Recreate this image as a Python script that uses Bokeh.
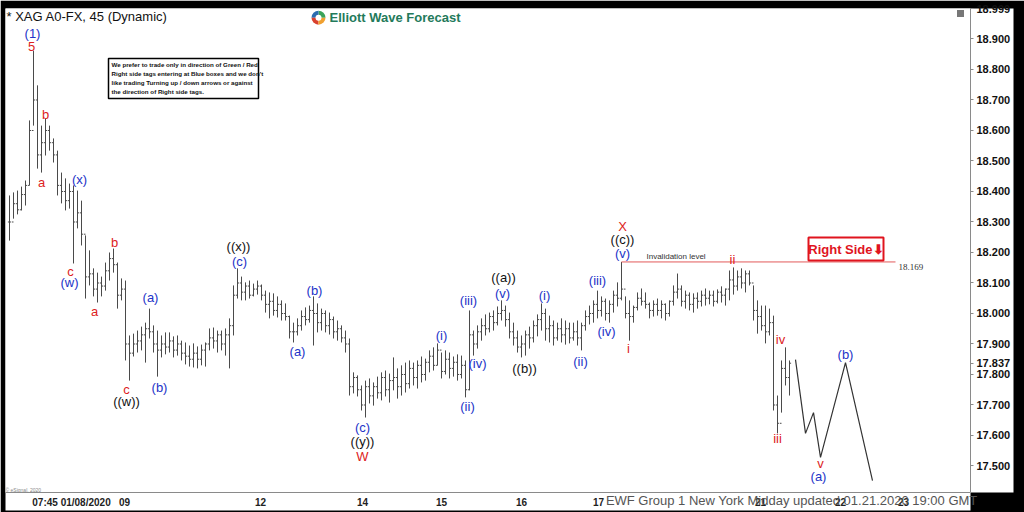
from bokeh.plotting import figure
from bokeh.models import Range1d, FixedTicker, PrintfTickFormatter, Label
from bokeh.core.properties import value
from bokeh.embed import file_html
from bokeh.resources import INLINE

# ---- 45-minute OHLC bars of XAG (high / low / close) ----
bar_high = [
    18.387, 18.397, 18.403, 18.416, 18.436, 18.633, 18.862, 18.748, 18.616, 18.639,
    18.616, 18.574, 18.534, 18.462, 18.443, 18.426, 18.420, 18.403, 18.370, 18.256,
    18.207, 18.148, 18.134, 18.121, 18.167, 18.200, 18.213, 18.167, 18.115, 18.108,
    17.928, 17.934, 17.944, 17.957, 17.970, 18.016, 17.961, 17.944, 17.928, 17.938,
    17.938, 17.925, 17.928, 17.911, 17.905, 17.895, 17.902, 17.892, 17.898, 17.905,
    17.951, 17.954, 17.944, 17.944, 17.951, 17.984, 18.092, 18.148, 18.121, 18.102,
    18.108, 18.098, 18.108, 18.095, 18.075, 18.069, 18.066, 18.056, 18.043, 18.033,
    17.993, 17.970, 17.984, 18.010, 18.020, 18.026, 18.056, 18.033, 18.016, 18.010,
    18.003, 17.990, 17.977, 17.961, 17.944, 17.918, 17.807, 17.797, 17.764, 17.780,
    17.787, 17.774, 17.793, 17.807, 17.813, 17.803, 17.856, 17.820, 17.830, 17.839,
    17.846, 17.839, 17.846, 17.859, 17.852, 17.879, 17.889, 17.902, 17.872, 17.879,
    17.872, 17.859, 17.866, 17.862, 17.846, 18.010, 17.944, 17.961, 17.984, 17.997,
    18.003, 18.010, 18.023, 18.043, 18.026, 18.003, 17.970, 17.944, 17.928, 17.944,
    17.957, 17.977, 17.997, 18.033, 18.016, 17.993, 17.977, 17.970, 17.984, 17.977,
    17.970, 17.970, 17.977, 17.970, 18.010, 18.026, 18.043, 18.075, 18.056, 18.049,
    18.043, 18.075, 18.102, 18.169, 18.056, 18.043, 18.026, 18.069, 18.082, 18.069,
    18.036, 18.043, 18.049, 18.043, 18.033, 18.043, 18.092, 18.131, 18.092, 18.075,
    18.069, 18.066, 18.069, 18.075, 18.082, 18.075, 18.075, 18.079, 18.089, 18.082,
    18.141, 18.151, 18.141, 18.148, 18.141, 18.141, 18.092, 18.043, 18.026, 18.026,
    18.016, 17.993, 17.731, 17.846, 17.889, 17.846,
]
bar_low = [
    18.239, 18.311, 18.325, 18.338, 18.354, 18.420, 18.616, 18.475, 18.462, 18.518,
    18.534, 18.495, 18.387, 18.361, 18.338, 18.344, 18.164, 18.279, 18.223, 18.049,
    18.092, 18.056, 18.036, 18.056, 18.075, 18.108, 18.134, 18.016, 18.043, 17.846,
    17.780, 17.859, 17.872, 17.879, 17.839, 17.918, 17.872, 17.793, 17.856, 17.866,
    17.872, 17.856, 17.862, 17.846, 17.833, 17.826, 17.823, 17.820, 17.830, 17.826,
    17.879, 17.885, 17.872, 17.879, 17.862, 17.820, 17.928, 18.049, 18.043, 18.043,
    18.049, 18.056, 18.062, 18.043, 18.003, 17.984, 17.993, 17.987, 17.977, 17.977,
    17.918, 17.905, 17.928, 17.944, 17.961, 17.970, 17.895, 17.938, 17.944, 17.938,
    17.931, 17.918, 17.911, 17.905, 17.872, 17.731, 17.738, 17.728, 17.682, 17.659,
    17.705, 17.698, 17.721, 17.715, 17.728, 17.708, 17.748, 17.721, 17.731, 17.741,
    17.754, 17.764, 17.754, 17.774, 17.780, 17.807, 17.813, 17.830, 17.787, 17.800,
    17.787, 17.793, 17.780, 17.787, 17.725, 17.748, 17.862, 17.885, 17.911, 17.928,
    17.938, 17.944, 17.961, 17.977, 17.957, 17.918, 17.895, 17.872, 17.856, 17.862,
    17.885, 17.905, 17.925, 17.944, 17.911, 17.905, 17.895, 17.911, 17.905, 17.898,
    17.902, 17.911, 17.895, 17.879, 17.944, 17.964, 17.970, 17.984, 17.990, 17.977,
    17.970, 18.003, 18.023, 18.043, 17.984, 17.911, 17.970, 18.010, 18.026, 18.016,
    17.984, 17.990, 17.993, 17.984, 17.977, 17.990, 18.026, 18.049, 18.023, 18.016,
    18.010, 18.003, 18.016, 18.023, 18.026, 18.030, 18.023, 18.033, 18.036, 18.026,
    18.043, 18.062, 18.075, 18.082, 18.069, 18.092, 17.977, 17.934, 17.944, 17.902,
    17.928, 17.682, 17.607, 17.675, 17.764, 17.731,
]
bar_close = [
    18.300, 18.360, 18.340, 18.390, 18.420, 18.600, 18.700, 18.520, 18.560, 18.600,
    18.560, 18.520, 18.420, 18.400, 18.370, 18.400, 18.300, 18.330, 18.260, 18.120,
    18.130, 18.080, 18.100, 18.090, 18.140, 18.180, 18.160, 18.060, 18.080, 17.900,
    17.870, 17.900, 17.910, 17.930, 17.950, 17.940, 17.900, 17.880, 17.900, 17.890,
    17.910, 17.880, 17.900, 17.870, 17.860, 17.850, 17.870, 17.850, 17.880, 17.900,
    17.920, 17.910, 17.930, 17.900, 17.930, 17.960, 18.060, 18.100, 18.070, 18.090,
    18.060, 18.080, 18.090, 18.060, 18.030, 18.040, 18.010, 18.030, 18.000, 17.990,
    17.940, 17.940, 17.960, 17.990, 17.980, 18.010, 18.000, 17.970, 18.000, 17.960,
    17.980, 17.940, 17.950, 17.920, 17.900, 17.760, 17.790, 17.750, 17.700, 17.760,
    17.730, 17.760, 17.740, 17.790, 17.750, 17.780, 17.790, 17.760, 17.800, 17.770,
    17.820, 17.790, 17.830, 17.800, 17.840, 17.860, 17.830, 17.880, 17.810, 17.850,
    17.820, 17.840, 17.800, 17.830, 17.750, 17.930, 17.900, 17.940, 17.960, 17.950,
    17.990, 17.970, 18.000, 18.010, 17.980, 17.940, 17.920, 17.890, 17.900, 17.930,
    17.920, 17.960, 17.980, 18.000, 17.950, 17.960, 17.920, 17.950, 17.930, 17.950,
    17.920, 17.940, 17.920, 17.960, 17.990, 18.000, 18.030, 18.010, 18.040, 18.000,
    18.030, 18.060, 18.050, 18.080, 18.000, 17.990, 18.020, 18.050, 18.040, 18.030,
    18.010, 18.030, 18.010, 18.030, 18.000, 18.040, 18.070, 18.080, 18.040, 18.060,
    18.030, 18.050, 18.040, 18.060, 18.050, 18.060, 18.040, 18.070, 18.060, 18.080,
    18.110, 18.090, 18.120, 18.100, 18.130, 18.100, 18.010, 17.990, 17.960, 17.940,
    17.970, 17.700, 17.640, 17.820, 17.790, 17.837,
]

# projected path (bar index, price)
proj_x = [196.5, 199.0, 201.0, 202.75, 209.0, 215.75]
proj_y = [17.849, 17.607, 17.675, 17.528, 17.839, 17.452]

invalidation_level = 18.169
last_price = 17.837
scale_top = 18.999

# axis ticks
y_ticks = [17.5, 17.6, 17.7, 17.8, 17.9, 18.0, 18.1, 18.2, 18.3, 18.4, 18.5, 18.6, 18.7, 18.8, 18.9]
date_tick_pos = [15.5, 28.75, 62.75, 88.25, 108.0, 128.0, 147.25, 187.75, 207.75, 223.5]
date_tick_labels = ["07:45 01/08/2020", "09", "12", "14", "15", "16", "17", "21", "22", "23"]
footer = "EWF Group 1 New York Midday  updated 01.21.2020 19:00 GMT"

# wave labels: (text, bar index, price)
blue_labels = [
    ("(1)", 5.75, 18.918), ("(x)", 17.5, 18.439), ("(w)", 15.0, 18.102),
    ("(a)", 35.25, 18.052), ("(b)", 37.5, 17.757), ("(c)", 57.5, 18.170),
    ("(b)", 76.25, 18.075), ("(a)", 72.0, 17.875), ("(c)", 88.25, 17.626),
    ("(i)", 108.0, 17.928), ("(ii)", 114.5, 17.695), ("(iii)", 114.75, 18.043),
    ("(iv)", 117.0, 17.836), ("(v)", 123.25, 18.066), ("(i)", 133.75, 18.059),
    ("(ii)", 142.75, 17.843), ("(iii)", 147.0, 18.108), ("(iv)", 149.25, 17.941),
    ("(v)", 153.25, 18.197), ("(a)", 202.25, 17.466), ("(b)", 209.0, 17.866),
]
red_labels = [
    ("5", 5.5, 18.875), ("b", 9.0, 18.652), ("a", 8.0, 18.430), ("c", 15.25, 18.138),
    ("b", 26.25, 18.233), ("a", 21.25, 18.007), ("c", 29.25, 17.751), ("W", 88.25, 17.531),
    ("X", 153.25, 18.285), ("i", 154.75, 17.885), ("ii", 180.75, 18.177),
    ("iv", 192.75, 17.915), ("iii", 192.0, 17.590), ("v", 202.75, 17.508),
]
black_labels = [
    ("((w))", 29.25, 17.711), ("((x))", 57.25, 18.220), ("((y))", 88.25, 17.580),
    ("((a))", 123.5, 18.118), ("((b))", 128.75, 17.820), ("((c))", 153.25, 18.243),
]

note_lines = [
    "We prefer to trade only in direction of Green / Red",
    "Right side tags entering at Blue boxes and we don't",
    "like trading Turning up / down arrows or against",
    "the direction of Right side tags.",
]

FONT = "Liberation Sans"

p = figure(width=1024, height=512, output_backend="svg", toolbar_location=None,
           x_range=Range1d(-1.0, 240.25), y_range=Range1d(17.4131, 19.0),
           y_axis_location="right", min_border_left=5, min_border_right=54,
           min_border_top=8, min_border_bottom=20)
p.border_fill_color = "black"
p.background_fill_color = "white"
p.outline_line_color = None
p.grid.visible = False

# axes
ya = p.yaxis[0]
ya.ticker = FixedTicker(ticks=y_ticks + [last_price, scale_top])
ya.formatter = PrintfTickFormatter(format="%.3f")
ya.major_label_text_font = FONT
ya.major_label_text_font_style = "bold"
ya.major_label_text_font_size = "11px"
ya.major_label_text_color = "#111111"
ya.axis_line_color = "#8a8a8a"
ya.major_tick_line_color = "#8a8a8a"
ya.major_tick_out = 3
ya.major_tick_in = 0
ya.minor_tick_line_color = None
ya.major_label_standoff = 3
ya.background_fill_color = "white"

xa = p.xaxis[0]
xa.ticker = FixedTicker(ticks=date_tick_pos)
xa.major_label_overrides = {pos: lab for pos, lab in zip(date_tick_pos, date_tick_labels)}
xa.major_label_text_font = FONT
xa.major_label_text_font_style = "bold"
xa.major_label_text_font_size = "10px"
xa.major_label_text_color = "#222222"
xa.axis_line_color = "#8a8a8a"
xa.major_tick_line_color = None
xa.major_tick_out = 0
xa.major_tick_in = 0
xa.minor_tick_line_color = None
xa.minor_tick_out = 0
xa.major_label_standoff = 4
xa.background_fill_color = "white"
# the axis label is centred on the frame's end; trailing no-break spaces move it left
xa.axis_label = footer + "\u00a0" * 98
xa.axis_label_align = "end"
xa.axis_label_standoff = -18
xa.axis_label_text_font = FONT
xa.axis_label_text_font_style = "normal"
xa.axis_label_text_font_size = "13px"
xa.axis_label_text_color = "#555555"

# OHLC bars
idx = list(range(len(bar_high)))
bar_open = [bar_close[0]] + bar_close[:-1]
BAR = "#4a4a4a"
p.segment(x0=idx, y0=bar_low, x1=idx, y1=bar_high, line_color=BAR, line_width=1)
p.segment(x0=[i - 0.4 for i in idx], y0=bar_open, x1=idx, y1=bar_open, line_color=BAR, line_width=1)
p.segment(x0=idx, y0=bar_close, x1=[i + 0.4 for i in idx], y1=bar_close, line_color=BAR, line_width=1)

# projection
p.line(proj_x, proj_y, line_color="#333333", line_width=1.2)

# invalidation line
p.segment(x0=[153], y0=[invalidation_level], x1=[221.5], y1=[invalidation_level],
          line_color="#e25a5a", line_width=1)
p.text(x=[159.25], y=[18.187], text=["Invalidation level"], text_font=value(FONT),
       text_font_size="8px", text_color="#333333", text_baseline="middle", text_align="left")
p.text(x=[222.25], y=[18.151], text=["%.3f" % invalidation_level], text_font=value("Liberation Serif"),
       text_font_size="9px", text_color="#333333", text_baseline="middle", text_align="left")

# Right side box
p.quad(left=[199.75], right=[218.5], bottom=[18.174], top=[18.249],
       fill_color="white", line_color="#e0141e", line_width=2)
p.text(x=[209.1], y=[18.211], text=["Right Side\u2b07"], text_font=value(FONT),
       text_font_style="bold", text_font_size="13px", text_color="#e0141e",
       text_baseline="middle", text_align="center")

# wave labels
for group, col in ((blue_labels, "#2233c8"), (red_labels, "#dd2222"), (black_labels, "#111111")):
    p.text(x=[g[1] for g in group], y=[g[2] for g in group], text=[g[0] for g in group],
           text_font=value(FONT), text_font_size="13px", text_color=col,
           text_baseline="middle", text_align="center")

# note box
p.quad(left=[24.75], right=[62.25], bottom=[18.705], top=[18.836],
       fill_color="white", line_color="black", line_width=1.5)
p.text(x=[25.5] * 4, y=[18.816, 18.787, 18.757, 18.728], text=note_lines,
       text_font=value(FONT), text_font_style="bold", text_font_size="6.2px",
       text_color="#111111", text_baseline="middle", text_align="left")

# logo icon
for a0, a1, c in ((0.0, 1.57, "#3aa35a"), (1.57, 3.14, "#2b6cb0"), (3.14, 4.71, "#d9412e"), (4.71, 6.283, "#f0a030")):
    p.wedge(x=77.25, y=18.970, radius=7, radius_units="screen", start_angle=a0, end_angle=a1,
            fill_color=c, line_color=None)
p.scatter(x=[77.25], y=[18.970], size=6, fill_color="white", line_color=None)

# small icon top right
p.rect(x=[237.75], y=[18.984], width=7, height=7, width_units="screen", height_units="screen",
       fill_color="#777777", line_color=None)

# texts inside the frame (screen units: x from frame left, y up from frame bottom)
def add_label(**kw):
    p.add_layout(Label(x_units="screen", y_units="screen", text_font=FONT,
                       text_baseline="middle", **kw))

add_label(x=1, y=476, text="* XAG A0-FX, 45 (Dynamic)", text_font_size="13px", text_color="#111111")
add_label(x=324, y=475, text="Elliott Wave Forecast", text_font_style="bold",
          text_font_size="13px", text_color="#237a5b")
add_label(x=0, y=3, text="\u00a9 eSignal, 2020", text_font_size="5px", text_color="#888888")

open("out.html", "w").write(file_html(p, INLINE))
